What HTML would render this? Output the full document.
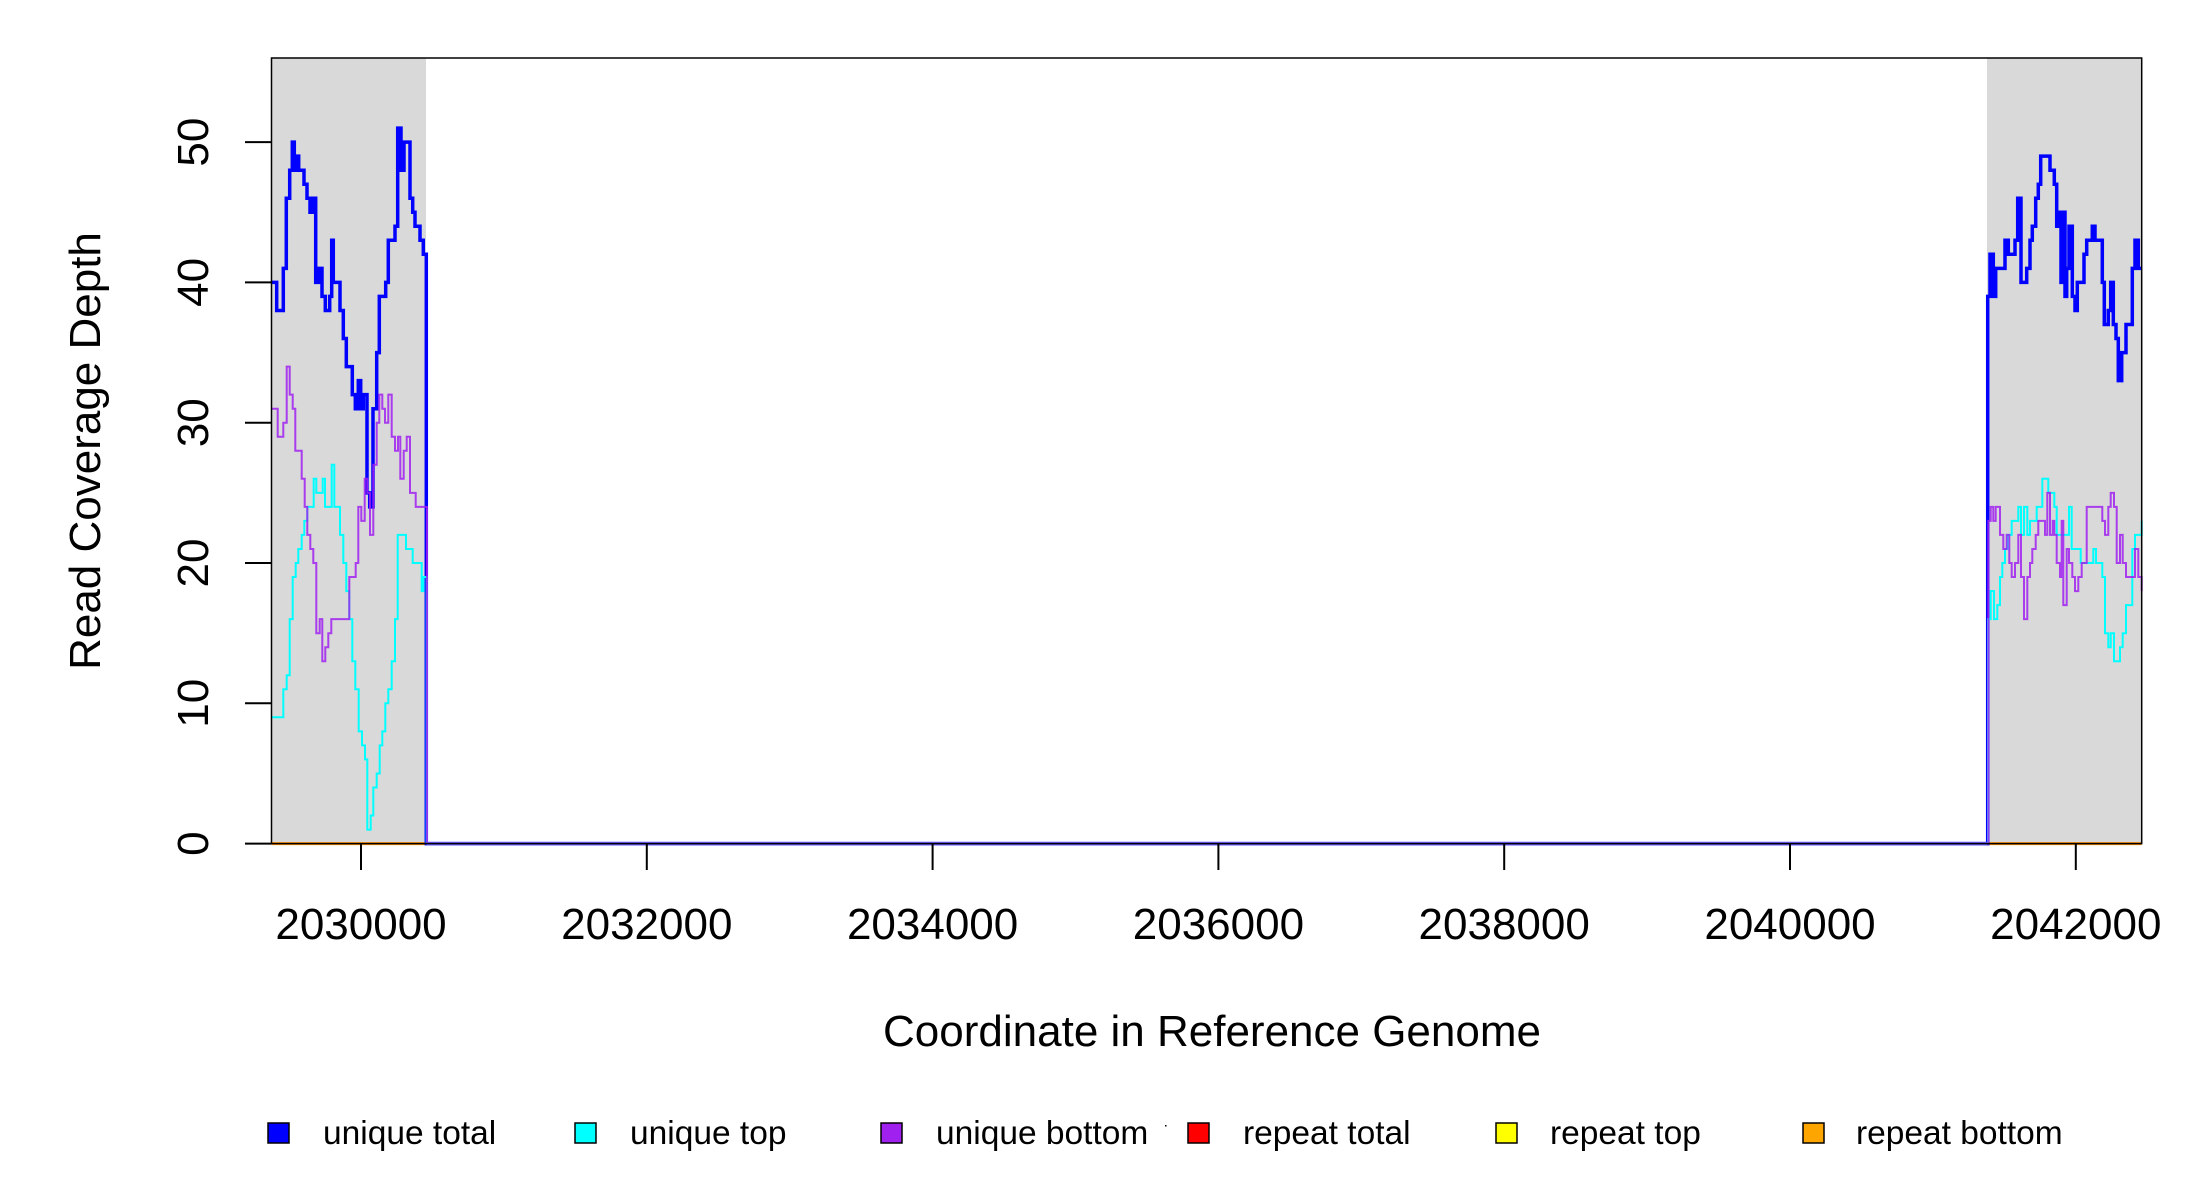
<!DOCTYPE html>
<html><head><meta charset="utf-8"><style>
html,body{margin:0;padding:0;background:#fff;}
svg{display:block;font-family:"Liberation Sans",Arial,sans-serif;}
</style></head><body>
<svg id="s" width="2200" height="1200" xmlns="http://www.w3.org/2000/svg">
<rect x="0" y="0" width="2200" height="1200" fill="#fff"/>
<rect x="271.5" y="58" width="154.5" height="785.6" fill="#d9d9d9"/>
<rect x="1987" y="58" width="154.7" height="785.6" fill="#d9d9d9"/>
<line x1="271.5" y1="843.6" x2="426" y2="843.6" stroke="#ff8c00" stroke-width="3"/>
<line x1="1987" y1="843.6" x2="2141.7" y2="843.6" stroke="#ff8c00" stroke-width="3"/>
<g id="lines"></g>
<rect x="271.5" y="58" width="1870.2" height="785.6" fill="none" stroke="#000" stroke-width="1.5"/>
<g stroke="#000" stroke-width="2">
<line x1="245" y1="843.6" x2="271.5" y2="843.6"/>
<line x1="245" y1="703.3" x2="271.5" y2="703.3"/>
<line x1="245" y1="563" x2="271.5" y2="563"/>
<line x1="245" y1="422.7" x2="271.5" y2="422.7"/>
<line x1="245" y1="282.4" x2="271.5" y2="282.4"/>
<line x1="245" y1="142.1" x2="271.5" y2="142.1"/>
<line x1="361" y1="843.6" x2="361" y2="870"/>
<line x1="646.8" y1="843.6" x2="646.8" y2="870"/>
<line x1="932.6" y1="843.6" x2="932.6" y2="870"/>
<line x1="1218.4" y1="843.6" x2="1218.4" y2="870"/>
<line x1="1504.2" y1="843.6" x2="1504.2" y2="870"/>
<line x1="1790" y1="843.6" x2="1790" y2="870"/>
<line x1="2075.8" y1="843.6" x2="2075.8" y2="870"/>
</g>
<g font-size="44" text-anchor="middle" fill="#000">
<text x="361" y="939">2030000</text>
<text x="646.8" y="939">2032000</text>
<text x="932.6" y="939">2034000</text>
<text x="1218.4" y="939">2036000</text>
<text x="1504.2" y="939">2038000</text>
<text x="1790" y="939">2040000</text>
<text x="2075.8" y="939">2042000</text>
<text transform="translate(208,843.6) rotate(-90)">0</text>
<text transform="translate(208,703.3) rotate(-90)">10</text>
<text transform="translate(208,563) rotate(-90)">20</text>
<text transform="translate(208,422.7) rotate(-90)">30</text>
<text transform="translate(208,282.4) rotate(-90)">40</text>
<text transform="translate(208,142.1) rotate(-90)">50</text>
<text transform="translate(100,451) rotate(-90)">Read Coverage Depth</text>
<text x="1212" y="1046">Coordinate in Reference Genome</text>
</g>
<g stroke="#000" stroke-width="1.5">
<rect x="268" y="1123" width="21" height="20" fill="#0000ff"/>
<rect x="575" y="1123" width="21" height="20" fill="#00ffff"/>
<rect x="881" y="1123" width="21" height="20" fill="#a020f0"/>
<rect x="1188" y="1123" width="21" height="20" fill="#ff0000"/>
<rect x="1496" y="1123" width="21" height="20" fill="#ffff00"/>
<rect x="1803" y="1123" width="21" height="20" fill="#ffa500"/>
</g>
<rect x="1165" y="1125" width="1.5" height="1.5" fill="#000"/>
<g font-size="33.5" fill="#000">
<text x="323" y="1144">unique total</text>
<text x="630" y="1144">unique top</text>
<text x="936" y="1144">unique bottom</text>
<text x="1243" y="1144">repeat total</text>
<text x="1550" y="1144">repeat top</text>
<text x="1856" y="1144">repeat bottom</text>
</g>
</svg>
<script>
var Y=function(v){return 843.6-v*14.03;};
var L=function(p){return 150+p/3;}, R=function(p){return 1950+p/3;};
function path(left,right){
  var pts=[];
  left.forEach(function(a){pts.push([L(a[0]),Y(a[1])]);});
  right.forEach(function(a){pts.push([R(a[0]),Y(a[1])]);});
  var d='M'+pts[0][0].toFixed(1)+' '+pts[0][1].toFixed(1);
  for(var i=1;i<pts.length;i++){d+=' H'+pts[i][0].toFixed(1)+' V'+pts[i][1].toFixed(1);}
  return d;
}
var bL=[[365,40],[380,38],[400,41],[409,46],[419,48],[427,50],[433,48],[440,49],[446,48],[462,47],[471,46],[480,45],[487,46],[497,40],[507,41],[516,39],[526,38],[539,39],[545,43],[550,40],[570,38],[580,36],[589,34],[607,32],[616,31],[625,33],[632,31],[640,32],[651,25],[659,24],[669,31],[680,35],[688,39],[707,40],[715,43],[735,44],[743,51],[753,48],[762,50],[780,46],[788,45],[795,44],[810,43],[820,42],[829,0]];
var bR=[[112,0],[113,39],[120,42],[130,39],[137,41],[165,43],[175,42],[195,43],[203,46],[213,40],[230,41],[240,43],[247,44],[257,46],[265,47],[272,49],[300,48],[313,47],[320,44],[328,45],[333,40],[340,45],[345,39],[350,41],[357,44],[367,39],[375,38],[382,40],[402,42],[410,43],[427,44],[435,43],[457,40],[463,37],[475,38],[482,40],[490,37],[498,36],[505,33],[515,35],[528,37],[547,41],[555,43],[565,41],[575,41]];
var cL=[[365,9],[400,11],[410,12],[419,16],[428,19],[437,20],[445,21],[455,22],[463,23],[472,24],[491,26],[499,25],[518,26],[525,24],[545,27],[553,24],[570,22],[580,20],[589,18],[598,16],[607,13],[616,11],[626,8],[636,7],[645,6],[652,1],[662,2],[670,4],[680,5],[689,7],[697,8],[706,10],[715,11],[725,13],[735,16],[743,22],[768,21],[788,20],[815,18],[820,19],[830,0]];
var cR=[[112,0],[114,16],[122,18],[132,16],[142,17],[150,19],[157,20],[165,21],[173,22],[185,23],[205,24],[213,22],[222,24],[232,22],[240,23],[260,24],[277,26],[295,25],[313,24],[320,22],[335,22],[357,24],[365,21],[383,21],[392,20],[412,20],[430,21],[438,20],[457,19],[465,15],[475,14],[482,15],[492,13],[510,14],[518,15],[528,17],[547,21],[555,22],[575,23]];
var pL=[[365,31],[383,29],[400,30],[410,34],[419,32],[428,31],[436,28],[455,26],[464,24],[472,22],[481,21],[490,20],[499,15],[509,16],[517,13],[526,14],[535,15],[544,16],[598,19],[617,20],[625,24],[634,23],[644,26],[652,25],[660,22],[670,27],[680,30],[688,32],[697,31],[705,30],[715,32],[725,29],[735,28],[744,29],[751,26],[761,28],[770,29],[780,25],[797,24],[831,0]];
var pR=[[114,0],[115,23],[122,24],[130,23],[137,24],[150,22],[160,21],[170,22],[178,20],[185,19],[195,20],[205,22],[213,19],[222,16],[232,19],[240,20],[247,21],[257,22],[265,23],[285,22],[292,25],[300,22],[308,23],[313,22],[320,20],[330,19],[335,23],[340,17],[350,21],[357,20],[367,19],[375,18],[385,19],[395,20],[410,24],[457,23],[465,22],[475,24],[482,25],[492,24],[500,20],[510,22],[518,20],[528,19],[555,21],[565,19],[575,18]];
var g=document.getElementById('lines');
g.innerHTML='<path d="'+path(bL,bR)+'" fill="none" stroke="#0000ff" stroke-width="3.5"/>'+
'<path d="'+path(cL,cR)+'" fill="none" stroke="#00ffff" stroke-width="2"/>'+
'<path d="'+path(pL,pR)+'" fill="none" stroke="#a020f0" stroke-width="2" stroke-opacity="0.85"/>'+
'<line x1="427" y1="843.6" x2="1987" y2="843.6" stroke="#6a5cff" stroke-width="3.5"/>';
</script>
</body></html>
